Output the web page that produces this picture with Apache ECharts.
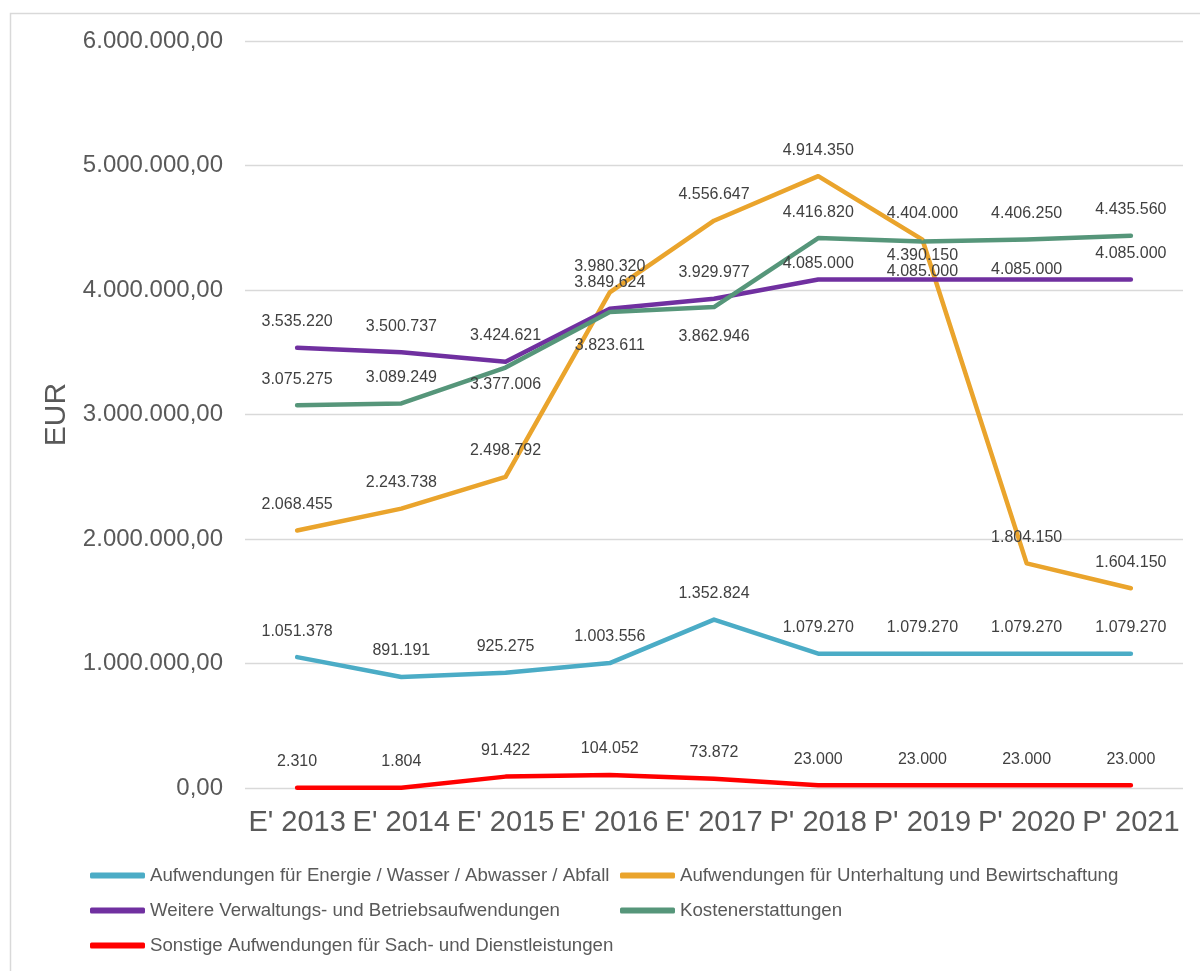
<!DOCTYPE html>
<html>
<head>
<meta charset="utf-8">
<script src="https://cdn.jsdelivr.net/npm/echarts@6/dist/echarts.min.js"></script>
<style>
  html, body { margin: 0; padding: 0; background: #fff; }
  #chart { width: 1200px; height: 971px; }
</style>
</head>
<body>
<div id="chart"></div>
<script>
// Kategorien (Jahre)
var categories = ["E' 2013", "E' 2014", "E' 2015", "E' 2016", "E' 2017", "P' 2018", "P' 2019", "P' 2020", "P' 2021"];

// Reihen
var energie      = [1051378, 891191, 925275, 1003556, 1352824, 1079270, 1079270, 1079270, 1079270];
var unterhaltung = [2068455, 2243738, 2498792, 3980320, 4556647, 4914350, 4404000, 1804150, 1604150];
var verwaltung   = [3535220, 3500737, 3424621, 3849624, 3929977, 4085000, 4085000, 4085000, 4085000];
var kosten       = [3075275, 3089249, 3377006, 3823611, 3862946, 4416820, 4390150, 4406250, 4435560];
var sonstige     = [2310, 1804, 91422, 104052, 73872, 23000, 23000, 23000, 23000];

var yMin = 0, yMax = 6000000, yStep = 1000000;

var names = [
    'Aufwendungen für Energie / Wasser / Abwasser / Abfall',
    'Aufwendungen für Unterhaltung und Bewirtschaftung',
    'Weitere Verwaltungs- und Betriebsaufwendungen',
    'Kostenerstattungen',
    'Sonstige Aufwendungen für Sach- und Dienstleistungen'
];
var values = [energie, unterhaltung, verwaltung, kosten, sonstige];
var colors = ['#4BACC6', '#EAA42C', '#7030A0', '#56967A', '#FF0000'];

// einzelne Beschriftungen verschoben (wie im Original)
var labelShift = [
    {},
    {},
    {5: 10, 6: 18, 7: 16},
    {2: 43, 3: 60, 4: 56, 6: 40},
    {}
];

var font = 'Liberation Sans, Arial, sans-serif';

function thousands(n) {
    return String(Math.round(n)).replace(/\B(?=(\d{3})+(?!\d))/g, '.');
}
function euro(n) {
    return thousands(n) + ',00';
}

var series = [];
for (var s = 0; s < names.length; s++) {
    var shift = labelShift[s];
    var data = values[s].map(function (v, i) {
        if (shift[i] !== undefined) {
            return {value: v, label: {offset: [0, shift[i]]}};
        }
        return v;
    });
    series.push({
        name: names[s],
        type: 'line',
        data: data,
        symbol: 'circle',
        symbolSize: 2,
        color: colors[s],
        lineStyle: {width: 4.5, color: colors[s], cap: 'round', join: 'round'},
        itemStyle: {color: colors[s]},
        emphasis: {disabled: true},
        label: {
            show: true,
            position: 'top',
            distance: 17,
            color: '#404040',
            fontSize: 16,
            fontFamily: font,
            formatter: function (p) { return thousands(p.value); }
        },
        animation: false
    });
}

var legendBase = {
    orient: 'vertical',
    top: 861,
    icon: 'roundRect',
    itemWidth: 55,
    itemHeight: 6,
    itemGap: 16,
    textStyle: {color: '#595959', fontSize: 18.7, fontFamily: font}
};

var chart = echarts.init(document.getElementById('chart'));
chart.setOption({
    animation: false,
    backgroundColor: '#fff',
    graphic: [{
        type: 'rect',
        left: 8,
        top: 11,
        shape: {width: 1300, height: 1100},
        style: {fill: 'none', stroke: '#d9d9d9', lineWidth: 1.5},
        silent: true
    }],
    grid: {left: 245, right: 17, top: 41, bottom: 183},
    legend: [
        Object.assign({}, legendBase, {left: 85, data: [names[0], names[2], names[4]]}),
        Object.assign({}, legendBase, {left: 615, data: [names[1], names[3]]})
    ],
    xAxis: {
        type: 'category',
        data: categories,
        boundaryGap: true,
        axisLine: {show: false},
        axisTick: {show: false},
        axisLabel: {interval: 0, color: '#595959', fontSize: 29, fontFamily: font, margin: 20}
    },
    yAxis: {
        type: 'value',
        min: yMin,
        max: yMax,
        interval: yStep,
        name: 'EUR',
        nameLocation: 'middle',
        nameRotate: 90,
        nameGap: 170,
        nameTextStyle: {color: '#595959', fontSize: 30, fontFamily: font},
        axisLine: {show: false},
        axisTick: {show: false},
        splitLine: {lineStyle: {color: '#d9d9d9', width: 1.3}},
        axisLabel: {color: '#595959', fontSize: 24, fontFamily: font, margin: 22, formatter: euro}
    },
    series: series
});
</script>
</body>
</html>
